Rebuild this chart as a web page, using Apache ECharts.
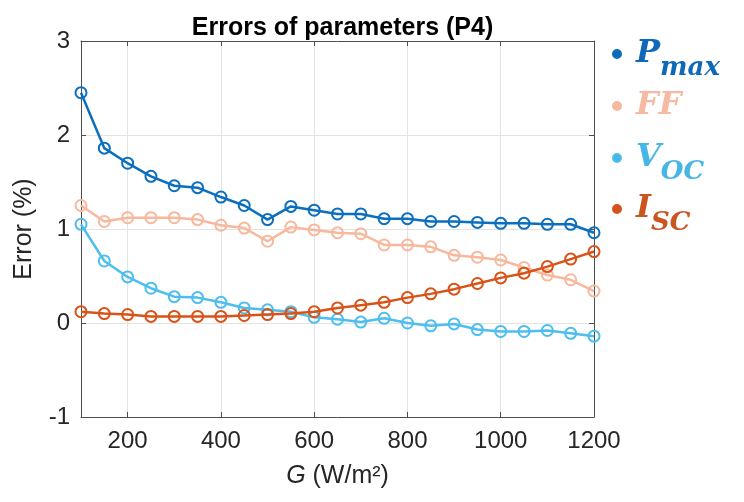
<!DOCTYPE html>
<html><head><meta charset="utf-8">
<script src="https://cdn.jsdelivr.net/npm/echarts@6/dist/echarts.min.js"></script>
<style>html,body{margin:0;padding:0;background:#fff}#c{width:744px;height:502px}</style>
</head><body><div id="c"></div>
<script>
const G = [100,150,200,250,300,350,400,450,500,550,600,650,700,750,800,850,900,950,1000,1050,1100,1150,1200];
const pmax = [2.45,1.86,1.70,1.56,1.46,1.44,1.34,1.25,1.10,1.24,1.20,1.16,1.16,1.11,1.11,1.08,1.08,1.07,1.06,1.06,1.05,1.05,0.96];
const ff   = [1.25,1.08,1.12,1.12,1.12,1.10,1.04,1.01,0.87,1.02,0.99,0.96,0.95,0.83,0.83,0.81,0.72,0.70,0.67,0.59,0.51,0.46,0.34];
const voc  = [1.05,0.66,0.49,0.37,0.28,0.27,0.22,0.16,0.14,0.12,0.06,0.04,0.01,0.05,0.00,-0.03,-0.01,-0.07,-0.09,-0.09,-0.08,-0.11,-0.14];
const isc  = [0.12,0.10,0.09,0.07,0.07,0.07,0.07,0.08,0.09,0.10,0.12,0.16,0.19,0.22,0.27,0.31,0.36,0.42,0.48,0.53,0.60,0.68,0.76];
const xTicks = [200,400,600,800,1000,1200];
const names = ['Pmax','FF','Voc','Isc'];
const legendLabels = ['{b|P}{s|max}','{b|FF}','{b|V}{s|OC}','{b|I}{s|SC}'];
const lineColors = ['#0B6FBE','#F7B89D','#4DBEEE','#D95319'];
const textColors = ['#1068B8','#F6B9A1','#45B7E5','#CB5520'];
const seriesData = [pmax, ff, voc, isc];
const legendTops = [38, 90, 142, 193];

const axisColor = '#4d4d4d';
const labelFont = {fontFamily:'Liberation Sans', fontSize:24, color:'#262626'};

const chart = echarts.init(document.getElementById('c'), null, {renderer:'canvas'});
const xBase = {
  type:'value', min:100, max:1200,
  axisLine:{show:true, onZero:false, lineStyle:{color:axisColor, width:1}},
  axisTick:{show:true, inside:true, length:5, customValues:xTicks, lineStyle:{color:axisColor}},
};
const yBase = {
  type:'value', min:-1, max:3, interval:1,
  axisLine:{show:true, onZero:false, lineStyle:{color:axisColor, width:1}},
  axisTick:{show:true, inside:true, length:5, lineStyle:{color:axisColor}},
};
const option = {
  backgroundColor:'#fff',
  animation:false,
  title:{
    text:'Errors of parameters (P4)', left:337.5, top:11, textAlign:'center',
    textStyle:{fontFamily:'Liberation Sans', fontWeight:'bold', fontSize:25, color:'#000'}
  },
  grid:{left:81, right:150, top:41, bottom:85, containLabel:false},
  xAxis:[
    Object.assign({}, xBase, {
      position:'bottom',
      axisLabel:Object.assign({show:true, margin:12, customValues:xTicks, formatter:v=>String(v)}, labelFont),
      splitLine:{show:true, lineStyle:{color:'#e3e3e3', width:1}},
      name:'{i|G} (W/m²)', nameLocation:'middle', nameGap:47,
      nameTextStyle:{fontFamily:'Liberation Sans', fontSize:25, color:'#262626',
        rich:{i:{fontFamily:'Liberation Sans', fontStyle:'italic', fontSize:25, color:'#262626'}}}
    }),
    Object.assign({}, xBase, {
      position:'top', axisLabel:{show:false}, splitLine:{show:false}
    })
  ],
  yAxis:[
    Object.assign({}, yBase, {
      position:'left',
      axisLabel:Object.assign({show:true, margin:11}, labelFont),
      splitLine:{show:true, lineStyle:{color:'#e3e3e3', width:1}},
      name:'Error (%)', nameLocation:'middle', nameGap:44, nameRotate:90,
      nameTextStyle:{fontFamily:'Liberation Sans', fontSize:25, color:'#262626'}
    }),
    Object.assign({}, yBase, {
      position:'right', axisLabel:{show:false}, splitLine:{show:false}
    })
  ],
  legend:names.map((n,i)=>({
    orient:'vertical', left:612, top:legendTops[i], padding:0,
    icon:'circle', itemWidth:28, itemHeight:8,
    data:[{name:n, itemStyle:{color:textColors[i]}, textStyle:{color:textColors[i]}}],
    formatter:function(nm){ return legendLabels[names.indexOf(nm)]; },
    textStyle:{
      color:textColors[i],
      rich:{
        b:{fontFamily:'DejaVu Serif', fontStyle:'italic', fontWeight:'bold', fontSize:32, lineHeight:54, color:textColors[i]},
        s:{fontFamily:'DejaVu Serif', fontStyle:'italic', fontWeight:'bold', fontSize:26, lineHeight:24, verticalAlign:'bottom', color:textColors[i]}
      }
    }
  })),
  series:names.map((n,i)=>({
    name:n, type:'line', xAxisIndex:0, yAxisIndex:0,
    data:G.map((g,j)=>[g, seriesData[i][j]]),
    symbol:'circle', symbolSize:11,
    itemStyle:{color:'rgba(0,0,0,0)', borderColor:lineColors[i], borderWidth:2},
    lineStyle:{color:lineColors[i], width:2.5},
    emphasis:{disabled:true},
    z:2+i
  }))
};
chart.setOption(option);
</script>
</body></html>
